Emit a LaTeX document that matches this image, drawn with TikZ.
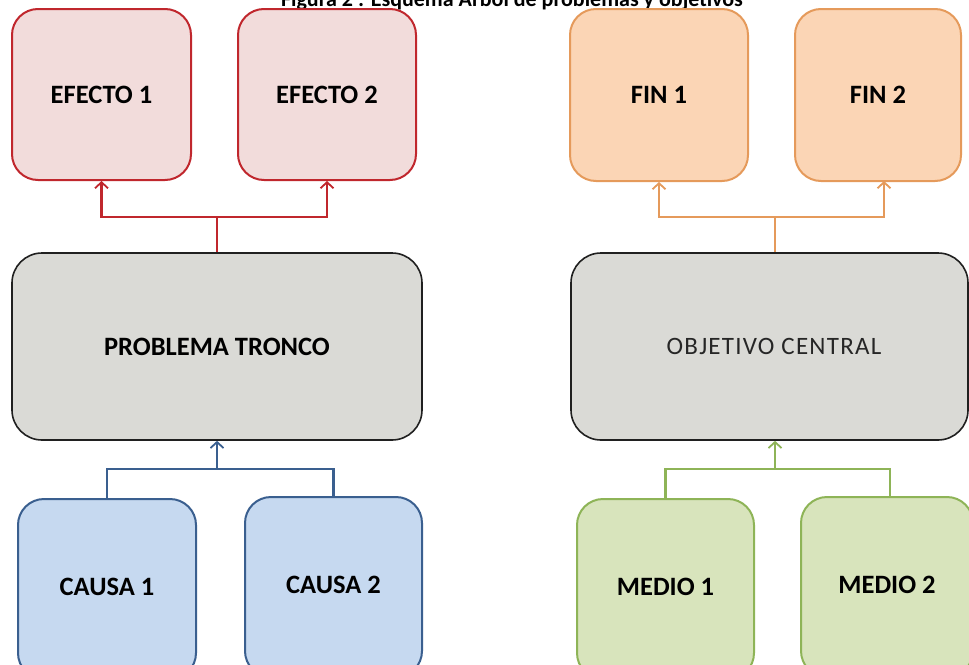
\documentclass[tikz,border=0pt]{standalone}
\usepackage{fontspec}
\setmainfont{Carlito}
\usetikzlibrary{arrows.meta}
\definecolor{redB}{HTML}{C0272D}\definecolor{redF}{HTML}{F2DCDB}
\definecolor{bluB}{HTML}{3A5F8F}\definecolor{bluF}{HTML}{C6D9F0}
\definecolor{orgB}{HTML}{E59A5B}\definecolor{orgF}{HTML}{FBD5B5}
\definecolor{grnB}{HTML}{8EB457}\definecolor{grnF}{HTML}{D8E4BC}
\definecolor{gryB}{HTML}{202020}\definecolor{gryF}{HTML}{DADAD6}
\begin{document}
\begin{tikzpicture}[x=1pt,y=-1pt,
  box/.style={rectangle,rounded corners=26pt,line width=2pt,inner sep=0pt,
    font=\fontsize{26.5}{31}\selectfont\bfseries,text=black},
  bigbox/.style={box,rounded corners=30pt,line width=1.6pt,draw=gryB,fill=gryF},
  redbox/.style={box,draw=redB,fill=redF},
  blubox/.style={box,draw=bluB,fill=bluF},
  orgbox/.style={box,draw=orgB,fill=orgF},
  grnbox/.style={box,draw=grnB,fill=grnF},
  tip/.style={-{Straight Barb[length=6pt,width=13pt,line width=1.8pt]}},
  conn/.style={line width=2.4pt}]
\useasboundingbox (0,0) rectangle (969,664);
\node[font=\fontsize{22}{26}\selectfont\bfseries,anchor=base] (title) at (512,6) {Figura 2 : Esquema Árbol de problemas y objetivos};
% left tree
\node[redbox,minimum width=179pt,minimum height=171pt] (e1) at (101.5,94.5) {EFECTO 1};
\node[redbox,minimum width=178pt,minimum height=171pt] (e2) at (327,94.5) {EFECTO 2};
\node[bigbox,minimum width=410pt,minimum height=187pt] (pt) at (217,346.5) {PROBLEMA TRONCO};
\node[blubox,minimum width=178pt,minimum height=180pt] (c1) at (107,589) {\raisebox{4pt}{CAUSA 1}};
\node[blubox,minimum width=177pt,minimum height=180pt] (c2) at (333.5,587) {\raisebox{5pt}{CAUSA 2}};
\coordinate (rj) at (217,217);
\coordinate (bj) at (217,469);
\draw[conn,redB] (pt.north) -- (rj);
\draw[conn,redB,tip] (rj) -| (e1.south);
\draw[conn,redB,tip] (rj) -| (e2.south);
\draw[conn,bluB] (c1.north) |- (bj) -| (c2.north);
\draw[conn,bluB,tip] (bj) -- (pt.south);
% right tree
\node[orgbox,minimum width=178pt,minimum height=172pt] (f1) at (659,95) {FIN 1};
\node[orgbox,minimum width=166pt,minimum height=172pt] (f2) at (878,95) {FIN 2};
\node[bigbox,minimum width=397pt,minimum height=187pt,font=\fontsize{25}{30}\selectfont,text=black!85] (oc) at (769.5,346.5) {\hspace*{9pt}\addfontfeature{LetterSpace=5}OBJETIVO CENTRAL};
\node[grnbox,minimum width=177pt,minimum height=180pt] (m1) at (665.5,589) {\raisebox{4pt}{MEDIO 1}};
\node[grnbox,minimum width=172pt,minimum height=180pt] (m2) at (887,587) {\raisebox{5pt}{MEDIO 2}};
\coordinate (oj) at (775,217);
\coordinate (gj) at (775,469);
\coordinate (f2s) at (884,181);
\coordinate (m2n) at (890,497);
\draw[conn,orgB] (oj |- oc.north) -- (oj);
\draw[conn,orgB,tip] (oj) -| (f1.south);
\draw[conn,orgB,tip] (oj) -| (f2s);
\draw[conn,grnB] (m1.north) |- (gj) -| (m2n);
\draw[conn,grnB,tip] (gj) -- (gj |- oc.south);
\end{tikzpicture}
\end{document}
